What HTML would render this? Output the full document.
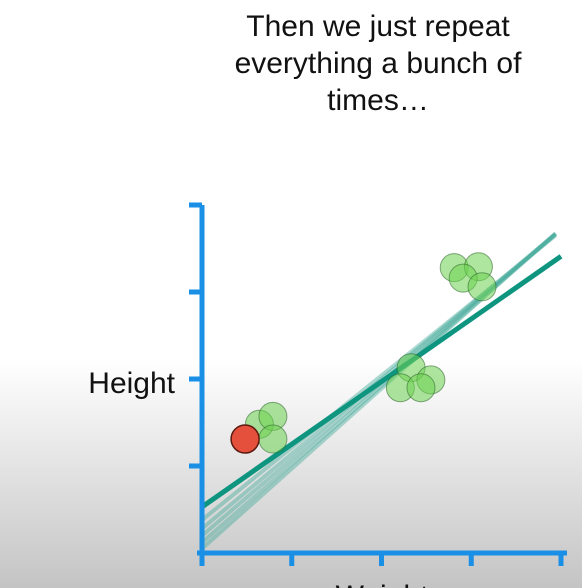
<!DOCTYPE html>
<html><head><meta charset="utf-8"><style>
html,body{margin:0;padding:0}
body{width:582px;height:588px;overflow:hidden;background:linear-gradient(to bottom,#fff 0,#fff 360px,#c4c4c4 588px);font-family:"Liberation Sans",sans-serif}
#title{position:absolute;left:170px;width:416px;top:8px;text-align:center;font-size:30px;line-height:37px;color:#111}
svg{position:absolute;left:0;top:0}
</style></head><body>
<div id="title">Then we just repeat<br>everything a bunch of<br>times…</div>
<svg id="chart" width="582" height="588"></svg>
<script>
const ptX=[0.64,0.79,0.79,2.33,2.21,2.55,2.44,2.81,3.08,2.91,3.12];
const ptY=[1.48,1.57,1.31,2.13,1.90,1.99,1.90,3.28,3.29,3.16,3.06];
const redX=[0.48];
const redY=[1.31];
const fitIntercepts=[0.05,0.12,0.2,0.28,0.38];
const fitSlopes=[0.92,0.90,0.88,0.86,0.83];
const mainIntercept=0.53, mainSlope=0.72;
const xTicks=[0,1,2,3,4];
const yTicks=[1,2,3,4];
const sx=v=>202+v*89.75, sy=v=>553-v*87;
const svg=document.getElementById('chart'), NS='http://www.w3.org/2000/svg';
function mk(t,a){const e=document.createElementNS(NS,t);for(const k in a)e.setAttribute(k,a[k]);svg.appendChild(e);return e;}
fitIntercepts.forEach((b,i)=>{const e=mk('line',{x1:sx(0),y1:sy(b),x2:sx(3.94),y2:sy(b+fitSlopes[i]*3.94),stroke:'rgba(70,170,155,0.45)','stroke-width':4});

});
const m=mk('line',{x1:sx(0),y1:sy(mainIntercept),x2:sx(4),y2:sy(mainIntercept+mainSlope*4),stroke:'#0e9580','stroke-width':5});


ptX.forEach((x,i)=>{const c=mk('circle',{cx:sx(x),cy:sy(ptY[i]),r:14,fill:'rgba(110,210,80,0.55)',stroke:'rgba(40,100,40,0.55)','stroke-width':1});

});
redX.forEach((x,i)=>{const c=mk('circle',{cx:sx(x),cy:sy(redY[i]),r:14,fill:'#e4503c',stroke:'#5a1a10','stroke-width':1.5});

});
const ax='#1a8fe6';
let a=mk('line',{x1:202,y1:205,x2:202,y2:556,stroke:ax,'stroke-width':5});


a=mk('line',{x1:197,y1:553,x2:567,y2:553,stroke:ax,'stroke-width':5});


yTicks.forEach(v=>{const t=mk('line',{x1:189,y1:sy(v),x2:202,y2:sy(v),stroke:ax,'stroke-width':5});

});
xTicks.forEach(v=>{const t=mk('line',{x1:sx(v),y1:553,x2:sx(v),y2:566,stroke:ax,'stroke-width':5});

});
let t=mk('text',{x:175,y:393,'text-anchor':'end','font-size':30,fill:'#111','font-family':'Liberation Sans,sans-serif'});
t.textContent='Height';


t=mk('text',{x:382,y:606,'text-anchor':'middle','font-size':30,fill:'#111','font-family':'Liberation Sans,sans-serif'});
t.textContent='Weight';


</script>
</body></html>
